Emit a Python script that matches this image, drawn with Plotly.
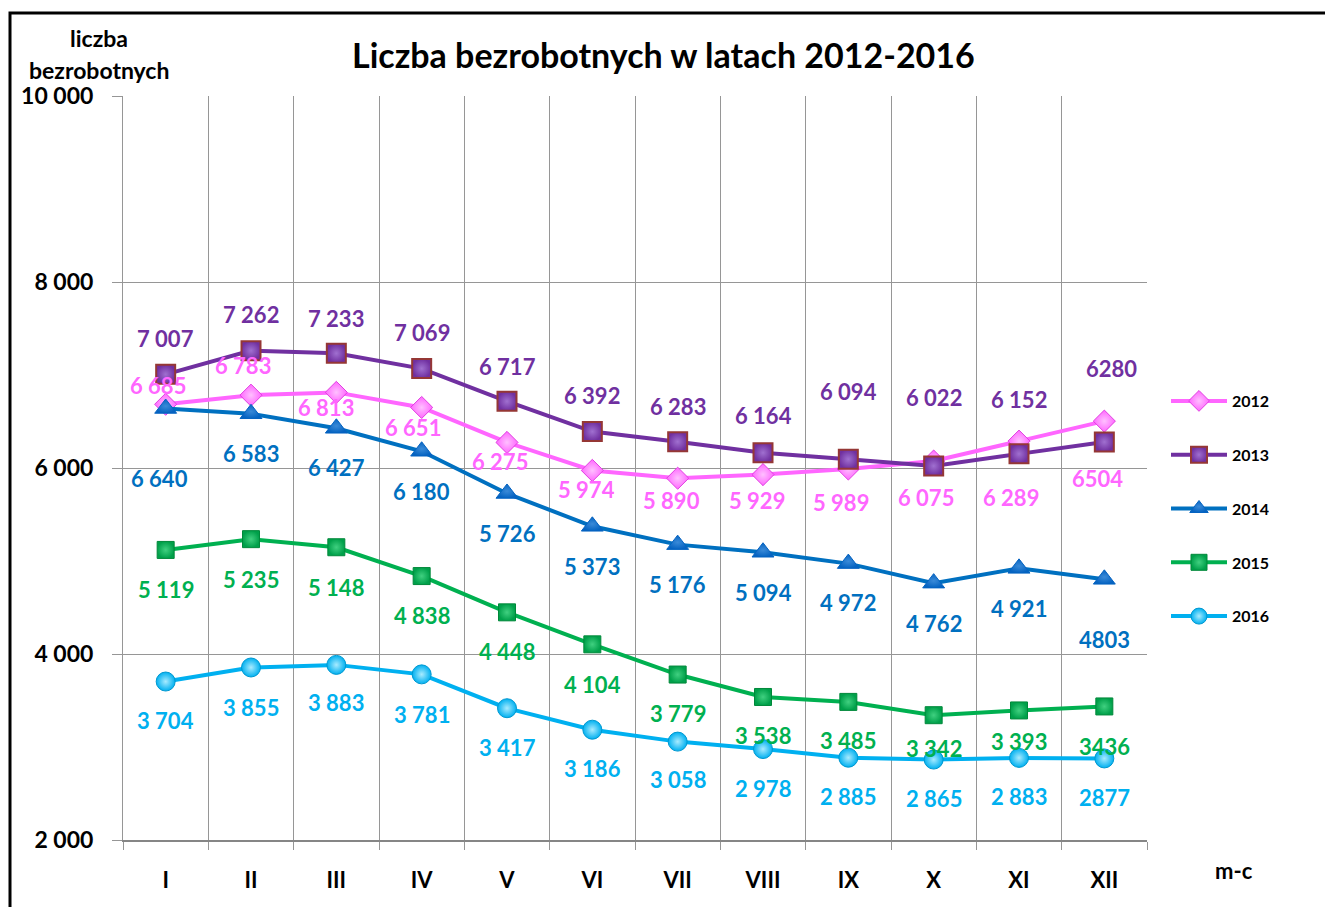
import plotly.graph_objects as go

months = ["I", "II", "III", "IV", "V", "VI", "VII", "VIII", "IX", "X", "XI", "XII"]
years = ["2012", "2013", "2014", "2015", "2016"]

v2012 = [6685, 6783, 6813, 6651, 6275, 5974, 5890, 5929, 5989, 6075, 6289, 6504]
v2013 = [7007, 7262, 7233, 7069, 6717, 6392, 6283, 6164, 6094, 6022, 6152, 6280]
v2014 = [6640, 6583, 6427, 6180, 5726, 5373, 5176, 5094, 4972, 4762, 4921, 4803]
v2015 = [5119, 5235, 5148, 4838, 4448, 4104, 3779, 3538, 3485, 3342, 3393, 3436]
v2016 = [3704, 3855, 3883, 3781, 3417, 3186, 3058, 2978, 2885, 2865, 2883, 2877]
series_values = [v2012, v2013, v2014, v2015, v2016]

y_ticks = [2000, 4000, 6000, 8000, 10000]

# styles
colors = ["#FF66FF", "#7030A0", "#0070C0", "#00B050", "#00B0F0"]
label_colors = ["#FF66FF", "#7030A0", "#0070C0", "#00B050", "#00B0F0"]
symbols = ["diamond", "square", "triangle-up", "square", "circle"]
msizes = [17, 19, 19, 17, 19]
mfill = ["#FF66FF", "#7030A0", "#0563C1", "#00A04A", "#00B0F0"]
mline = ["#E040E0", "#953735", "#0563C1", "#00883A", "#0098D0"]
mline_w = [1, 2, 1, 1, 1]
gradc = ["#FFC0FF", "#A070D0", "#3A8AD8", "#40D080", "#A8EBFF"]

# label pixel offsets (dx, dy downward) relative to point
off_dy = [
    [-19, -30, 15, 20, 19, 19, 22, 26, 33, 36, 56, 57],
    [-36, -36, -35, -36, -35, -36, -35, -37, -68, -68, -54, -73],
    [70, 40, 39, 40, 40, 40, 40, 40, 39, 40, 40, 60],
    [40, 40, 40, 39, 39, 40, 39, 39, 39, 33, 31, 40],
    [39, 40, 38, 40, 39, 39, 38, 39, 39, 39, 39, 39],
]
off_dx = [
    [-8, -8, -10, -9, -7, -6, -6, -6, -7, -8, -8, -7],
    [0, 0, 0, 0, 0, 0, 0, 0, 0, 0, 0, 7],
    [-6, 0, 0, 0, 0, 0, 0, 0, 0, 0, 0, 0],
    [0, 0, 0, 0, 0, 0, 0, 0, 0, 0, 0, 0],
    [0, 0, 0, 0, 0, 0, 0, 0, 0, 0, 0, 0],
]

FONT = "Lato"

def fmt(v, i):
    s = f"{v:,}"
    if i == len(months) - 1:
        return s.replace(",", "")
    return s.replace(",", " ")

fig = go.Figure()
for k, (yr, vals) in enumerate(zip(years, series_values)):
    fig.add_trace(go.Scatter(
        x=months, y=vals, name=yr, mode="lines+markers",
        legendgroup=yr,
        line=dict(color=colors[k], width=4),
        marker=dict(symbol=symbols[k], size=msizes[k], color=mfill[k],
                    line=dict(color=mline[k], width=mline_w[k]),
                    gradient=dict(type="radial", color=gradc[k])),
    ))

annotations = []
for k, vals in enumerate(series_values):
    for i, v in enumerate(vals):
        annotations.append(dict(
            x=months[i], y=v, xref="x", yref="y", text=fmt(v, i),
            showarrow=False, xshift=off_dx[k][i], yshift=-off_dy[k][i],
            font=dict(family=FONT, size=22, color=label_colors[k], weight="bold"),
        ))

# page offset (body margin) compensation
OFF = 8
W, H = 1333 - OFF, 907 - OFF
L, R, T, B = 123, 1147, 96, 840  # page coordinates of the plot area
pw, ph = R - L, B - T

def px(x):
    return (x - L) / pw

def py(y):
    return (B - y) / ph

annotations += [
    dict(text="<b>liczba</b>", x=px(99), y=py(38), xref="paper", yref="paper",
         showarrow=False, xanchor="center", yanchor="middle",
         font=dict(family=FONT, size=23, color="black")),
    dict(text="<b>bezrobotnych</b>", x=px(99), y=py(70), xref="paper", yref="paper",
         showarrow=False, xanchor="center", yanchor="middle",
         font=dict(family=FONT, size=23, color="black")),
    dict(text="<b>m-c</b>", x=px(1234), y=py(870), xref="paper", yref="paper",
         showarrow=False, xanchor="center", yanchor="middle",
         font=dict(family=FONT, size=22, color="black")),
    dict(text="<b>Liczba bezrobotnych w latach 2012-2016</b>", x=px(663), y=py(55),
         xref="paper", yref="paper", showarrow=False, xanchor="center", yanchor="middle",
         font=dict(family=FONT, size=34, color="black")),
]

fig.update_layout(
    width=W, height=H,
    margin=dict(l=L - OFF, r=W - (R - OFF), t=T - OFF, b=H - (B - OFF), autoexpand=False),
    paper_bgcolor="white", plot_bgcolor="white",
    separators=", ",
    showlegend=True,
    legend=dict(x=px(1166), y=py(384), xanchor="left", yanchor="top",
                font=dict(family=FONT, size=16, color="black", weight="bold"),
                tracegroupgap=30, itemwidth=56, bgcolor="rgba(0,0,0,0)"),
    annotations=annotations,
    shapes=[dict(type="rect", xref="paper", yref="paper",
                 x0=px(10), x1=px(1345), y0=py(930), y1=py(13),
                 line=dict(color="black", width=3), layer="below")],
)
fig.update_xaxes(
    type="category", tickson="boundaries", showgrid=True, gridcolor="#969696", gridwidth=1,
    ticks="outside", ticklen=8, tickcolor="#969696", showline=True, linecolor="#868686",
    linewidth=2, tickfont=dict(family=FONT, size=22, color="black", weight="bold"),
    ticklabelstandoff=20, range=[-0.5, 11.5], zeroline=False,
)
fig.update_yaxes(
    range=[2000, 10000], tickvals=y_ticks, tickformat=",d", showgrid=True,
    gridcolor="#969696", gridwidth=1, ticks="outside", ticklen=10, tickcolor="#969696",
    showline=True, linecolor="#969696", linewidth=1, zeroline=False,
    tickfont=dict(family=FONT, size=23, color="black", weight="bold"),
    ticklabelstandoff=14,
)

fig.write_html("out.html")
